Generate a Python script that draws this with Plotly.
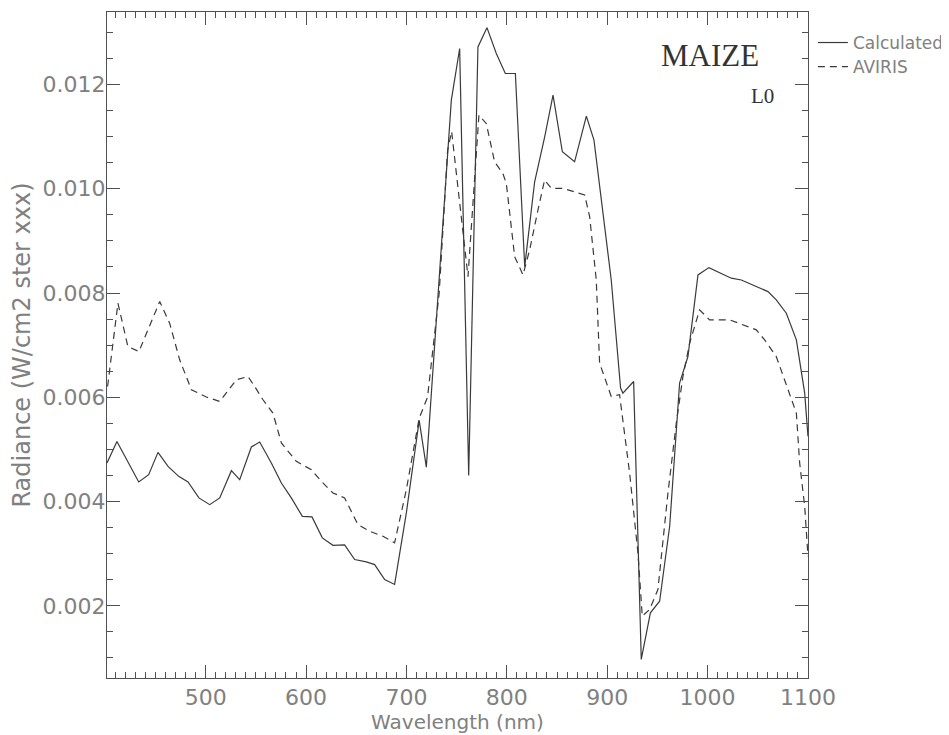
import plotly.graph_objects as go

# ---- data ----
calc_wl = [401.7, 411.6, 433.3, 443.2, 452.5, 462.5, 473.1, 482.4, 493.3, 504.0,
           514.0, 525.6, 533.9, 545.5, 553.8, 565.4, 575.4, 585.3, 596.3, 605.9,
           616.2, 626.8, 638.4, 648.4, 660.0, 668.3, 678.3, 688.2, 699.9, 712.7,
           719.8, 744.7, 753.0, 762.0, 771.2, 780.2, 789.5, 798.5, 808.5, 817.8,
           827.7, 837.7, 846.0, 855.3, 867.5, 879.2, 886.8, 895.7, 904.0, 913.3,
           915.6, 926.3, 933.9, 943.0, 952.2, 962.2, 972.1, 980.4, 990.4, 1001.3,
           1023.6, 1033.6, 1060.1, 1068.4, 1078.4, 1088.4, 1096.7, 1100.0]
calc_rad = [0.00474, 0.00515, 0.004375, 0.004515, 0.004943, 0.004674, 0.004483, 0.004375, 0.004069, 0.00394,
            0.004069, 0.004592, 0.00442, 0.005046, 0.005142, 0.00474, 0.004356, 0.004069, 0.003716, 0.003705,
            0.003303, 0.003161, 0.00317, 0.002887, 0.002843, 0.002791, 0.002504, 0.00241, 0.003782, 0.005556,
            0.00466, 0.0117, 0.01269, 0.0045, 0.01272, 0.01309, 0.012594, 0.01221, 0.01221, 0.008506,
            0.010134, 0.010996, 0.011795, 0.010709, 0.010517, 0.011393, 0.010933, 0.009529, 0.00825, 0.006176,
            0.00608, 0.006303, 0.000971, 0.001866, 0.002088, 0.003525, 0.006272, 0.006782, 0.008347, 0.008487,
            0.008284, 0.00825, 0.008027, 0.007868, 0.007613, 0.007102, 0.00608, 0.00525]

aviris_wl = [402.3, 412.6, 422.5, 433.5, 454.2, 464.1, 474.1, 485.8, 500.7, 514.0,
             530.6, 542.1, 548.8, 557.1, 567.0, 575.4, 590.3, 605.3, 615.2, 626.8,
             638.4, 651.7, 663.3, 676.6, 688.2, 699.9, 712.7, 721.0, 732.6, 741.0,
             745.0, 752.0, 761.3, 772.2, 779.5, 787.8, 796.1, 799.5, 807.8, 816.1,
             822.7, 831.0, 837.6, 844.3, 855.9, 877.5, 882.5, 889.1, 892.4, 904.0,
             912.3, 922.3, 930.6, 934.9, 942.2, 950.5, 960.5, 968.8, 975.4, 982.1,
             992.0, 1002.0, 1022.0, 1048.5, 1056.8, 1068.4, 1081.7, 1088.4, 1091.7, 1096.7,
             1100.0]
aviris_rad = [0.006207, 0.007805, 0.006973, 0.006877, 0.007835, 0.007421, 0.006718, 0.006144, 0.006004, 0.00592,
              0.006335, 0.006398, 0.006207, 0.005952, 0.005697, 0.005123, 0.00477, 0.004611, 0.004387, 0.004165,
              0.004069, 0.003557, 0.003429, 0.003334, 0.003207, 0.004228, 0.0056, 0.0060, 0.007996, 0.01074,
              0.0111, 0.0099, 0.008314, 0.011412, 0.011253, 0.010517, 0.01029, 0.0101, 0.008697, 0.008347,
              0.008826, 0.009592, 0.010167, 0.010008, 0.010008, 0.009879, 0.009464, 0.00825, 0.006655, 0.006015,
              0.006048, 0.004548, 0.003015, 0.001801, 0.001929, 0.002312, 0.004165, 0.005506, 0.006398, 0.007038,
              0.007676, 0.007485, 0.007485, 0.007293, 0.0071, 0.006782, 0.00608, 0.005697, 0.004739, 0.003908,
              0.00295]

series_names = ["Calculated", "AVIRIS"]
x_title = "Wavelength (nm)"
y_title = "Radiance (W/cm2 ster xxx)"
label_main = "MAIZE"
label_sub = "L0"

LINE = "#3a3a3a"
AXC = "#505050"
TXT = "#808080"

fig = go.Figure()
fig.add_trace(go.Scatter(x=calc_wl, y=calc_rad, mode="lines", name=series_names[0],
                         line=dict(color=LINE, width=1.2), legend="legend"))
fig.add_trace(go.Scatter(x=aviris_wl, y=aviris_rad, mode="lines", name=series_names[1],
                         line=dict(color=LINE, width=1.2, dash="7px,5px"), legend="legend2"))

axis_common = dict(showline=True, linecolor=AXC, linewidth=1, mirror="ticks",
                   ticks="inside", ticklen=13, tickcolor=AXC, tickwidth=1,
                   showgrid=False, zeroline=False,
                   tickfont=dict(family="DejaVu Sans", size=22, color=TXT))

fig.update_xaxes(range=[401.7, 1100], tick0=0, dtick=100, ticklabelstandoff=0,
                 minor=dict(dtick=10, ticks="inside", ticklen=6, tickcolor=AXC, showgrid=False),
                 title=dict(text=x_title, font=dict(family="DejaVu Sans", size=20, color=TXT), standoff=1),
                 **axis_common)
fig.update_yaxes(range=[0.000615, 0.01339], tick0=0, dtick=0.002, tickformat=".3f",
                 ticklabelstandoff=-4,
                 minor=dict(dtick=0.0005, ticks="inside", ticklen=6, tickcolor=AXC, showgrid=False),
                 title=dict(text=y_title, font=dict(family="DejaVu Sans", size=24, color=TXT), standoff=5),
                 **axis_common)

leg_font = dict(family="DejaVu Sans", size=17, color=TXT)
# the page body has an 8px margin, so the plot frame is placed 8px up/left in figure coordinates
fig.update_layout(
    width=949, height=735,
    margin=dict(l=99, r=149, t=4, b=65),
    paper_bgcolor="white", plot_bgcolor="white",
    showlegend=True,
    legend=dict(x=1.007, y=0.9535, xanchor="left", yanchor="middle", font=leg_font,
                bgcolor="rgba(0,0,0,0)", borderwidth=0),
    legend2=dict(x=1.007, y=0.9174, xanchor="left", yanchor="middle", font=leg_font,
                 bgcolor="rgba(0,0,0,0)", borderwidth=0),
    annotations=[
        dict(text=label_main, xref="paper", yref="paper", x=0.860, y=0.9354,
             xanchor="center", yanchor="middle", showarrow=False,
             font=dict(family="Liberation Serif", size=31, color="#333333")),
        dict(text=label_sub, xref="paper", yref="paper", x=0.9358, y=0.8739,
             xanchor="center", yanchor="middle", showarrow=False,
             font=dict(family="Liberation Serif", size=21, color="#333333")),
    ],
)

fig.write_html("out.html")
